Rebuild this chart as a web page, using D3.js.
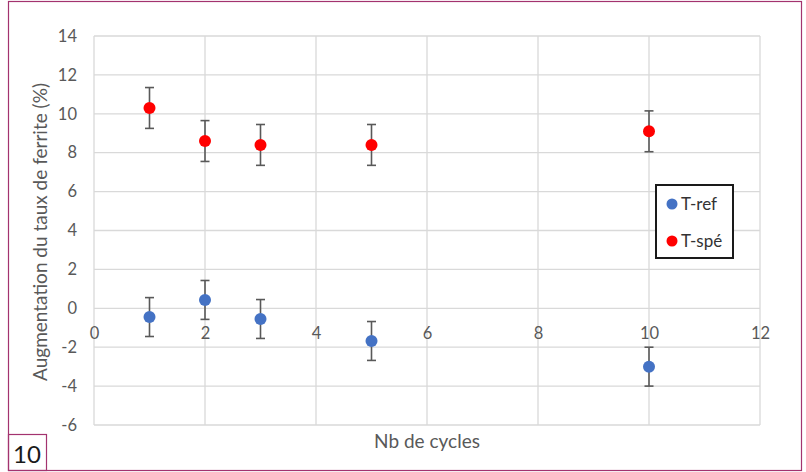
<!DOCTYPE html>
<html>
<head>
<meta charset="utf-8">
<script src="https://cdn.jsdelivr.net/npm/d3@7"></script>
<style>
  html, body { margin: 0; padding: 0; background: #fff; }
  svg { display: block; }
  text { font-family: Lato, "Open Sans", sans-serif; }
</style>
</head>
<body>
<svg id="chart" width="806" height="472"></svg>
<script>
// Number of cycles for each measurement
const cycles = [1, 2, 3, 5, 10];
// Ferrite rate increase (%) and error bar half-widths per series
const tRef = [-0.45, 0.43, -0.55, -1.68, -3.0];
const tRefErr = [1.0, 1.0, 1.0, 1.0, 1.0];
const tSpe = [10.3, 8.6, 8.4, 8.4, 9.1];
const tSpeErr = [1.05, 1.05, 1.05, 1.05, 1.05];
const xTicks = [0, 2, 4, 6, 8, 10, 12];
const yTicks = [-6, -4, -2, 0, 2, 4, 6, 8, 10, 12, 14];
const seriesNames = ["T-ref", "T-spé"];
const seriesColors = ["#4472C4", "#FF0000"];

const svg = d3.select("#chart");
const x = d3.scaleLinear().domain([0, 12]).range([94, 760]);
const y = d3.scaleLinear().domain([-6, 14]).range([425, 36]);
const tickFont = 16.5;
const titleFont = 19;
// Plain hyphen for negative numbers
const fmt = d => String(d);

// Outer frame and figure number box
svg.append("rect").attr("x", 8.5).attr("y", 1.5).attr("width", 793).attr("height", 469)
  .attr("fill", "none").attr("stroke", "#a3336f").attr("stroke-width", 1.2);
svg.append("rect").attr("x", 8.5).attr("y", 434.5).attr("width", 38).attr("height", 36)
  .attr("fill", "none").attr("stroke", "#a3336f").attr("stroke-width", 1.2);
svg.append("text").attr("x", 27).attr("y", 463).attr("text-anchor", "middle")
  .attr("font-size", 24).attr("fill", "#1a1a1a").text("10");

// Gridlines
const grid = svg.append("g").attr("stroke", "#d9d9d9").attr("stroke-width", 1.3);
grid.selectAll("line.h").data(yTicks).join("line").attr("class", "h")
  .attr("x1", x(0)).attr("x2", x(12)).attr("y1", d => y(d)).attr("y2", d => y(d));
grid.selectAll("line.v").data(xTicks).join("line").attr("class", "v")
  .attr("y1", y(-6)).attr("y2", y(14)).attr("x1", d => x(d)).attr("x2", d => x(d));

// Y tick labels
const yAxis = d3.axisLeft(y).tickValues(yTicks).tickFormat(fmt).tickSize(0).tickPadding(17);
const gy = svg.append("g").attr("transform", `translate(${x(0)},0)`).call(yAxis);
gy.select(".domain").remove();
gy.selectAll("text").attr("font-size", tickFont).attr("fill", "#595959")
  .style("font-family", "Lato, 'Open Sans', sans-serif");

// X tick labels sit just below the y = 0 line
const xAxis = d3.axisBottom(x).tickValues(xTicks).tickFormat(fmt).tickSize(0).tickPadding(19);
const gx = svg.append("g").attr("transform", `translate(0,${y(0)})`).call(xAxis);
gx.select(".domain").remove();
gx.selectAll("text").attr("font-size", tickFont).attr("fill", "#595959")
  .style("font-family", "Lato, 'Open Sans', sans-serif");

// Axis titles
svg.append("text").attr("x", 427).attr("y", 448).attr("text-anchor", "middle")
  .attr("font-size", titleFont).attr("fill", "#595959").text("Nb de cycles");
svg.append("text").attr("transform", `translate(47,232) rotate(-90)`)
  .attr("text-anchor", "middle").attr("font-size", titleFont).attr("fill", "#595959")
  .text("Augmentation du taux de ferrite (%)");

// Series with error bars
const series = [
  { values: tRef, err: tRefErr, color: seriesColors[0] },
  { values: tSpe, err: tSpeErr, color: seriesColors[1] }
];
series.forEach(s => {
  const pts = cycles.map((c, i) => ({ c, v: s.values[i], e: s.err[i] }));
  const eb = svg.append("g").attr("stroke", "#595959").attr("stroke-width", 1.6);
  eb.selectAll("line.stem").data(pts).join("line")
    .attr("x1", d => x(d.c)).attr("x2", d => x(d.c))
    .attr("y1", d => y(d.v + d.e)).attr("y2", d => y(d.v - d.e));
  eb.selectAll("line.top").data(pts).join("line")
    .attr("x1", d => x(d.c) - 4.5).attr("x2", d => x(d.c) + 4.5)
    .attr("y1", d => y(d.v + d.e)).attr("y2", d => y(d.v + d.e));
  eb.selectAll("line.bot").data(pts).join("line")
    .attr("x1", d => x(d.c) - 4.5).attr("x2", d => x(d.c) + 4.5)
    .attr("y1", d => y(d.v - d.e)).attr("y2", d => y(d.v - d.e));
  svg.append("g").selectAll("circle").data(pts).join("circle")
    .attr("cx", d => x(d.c)).attr("cy", d => y(d.v)).attr("r", 6)
    .attr("fill", s.color);
});

// Legend
const lg = svg.append("g");
lg.append("rect").attr("x", 656).attr("y", 185).attr("width", 77).attr("height", 73)
  .attr("fill", "#fff").attr("stroke", "#1a1a1a").attr("stroke-width", 2);
seriesNames.forEach((name, i) => {
  const cy = 204 + i * 37;
  lg.append("circle").attr("cx", 672).attr("cy", cy).attr("r", 5.5).attr("fill", seriesColors[i]);
  lg.append("text").attr("x", 681).attr("y", cy + 6).attr("font-size", 17)
    .attr("fill", "#333").text(name);
});
</script>
</body>
</html>
